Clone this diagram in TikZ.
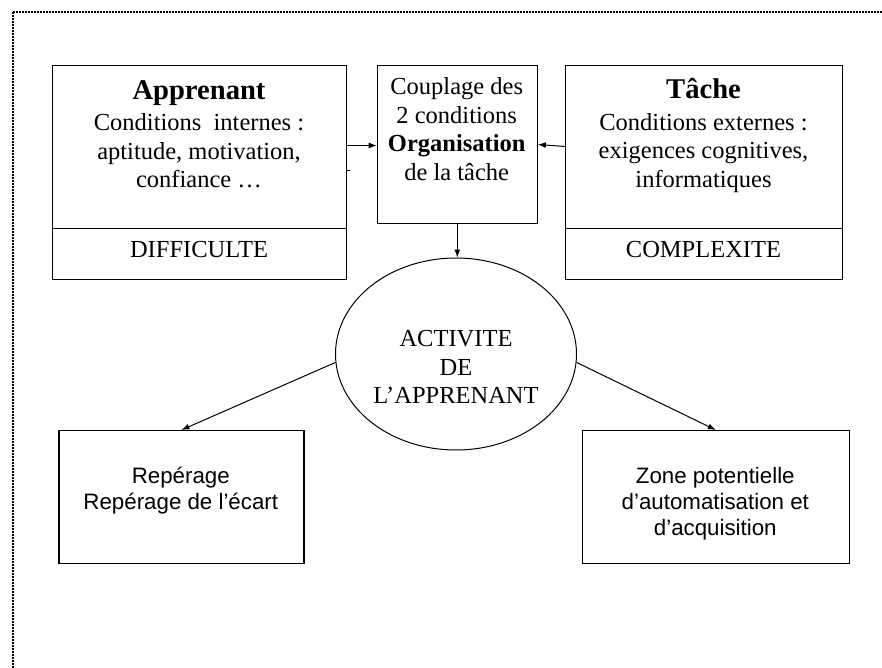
\documentclass[tikz,border=0pt]{standalone}
\usepackage{fontspec}
\setmainfont{Liberation Serif}
\newfontfamily\arialfont{Liberation Sans}
\usetikzlibrary{shapes.geometric,arrows.meta}
\begin{document}
\begin{tikzpicture}[x=1pt,y=-1pt,
  box/.style={draw=black,line width=1.2pt,rectangle,inner sep=0pt,anchor=north west},
  ln/.style={anchor=base,inner sep=0pt,font=\fontsize{24.5}{28.7}\selectfont},
  lnb/.style={anchor=base,inner sep=0pt,font=\fontsize{24.5}{28.7}\selectfont\bfseries},
  ttl/.style={anchor=base,inner sep=0pt,font=\fontsize{28.6}{33}\selectfont\bfseries},
  lna/.style={anchor=base,inner sep=0pt,font=\arialfont\fontsize{22.3}{25.7}\selectfont},
  conn/.style={draw=black,line width=1pt,-{Latex[length=8pt,width=6pt]}}]
\useasboundingbox (0,0) rectangle (882,668);
% dotted frame
\draw[line width=2pt,dash pattern=on 2pt off 1pt] (12.7,668) -- (12.7,11.7) -- (882,11.7);

% top boxes
\node[box,minimum width=294pt,minimum height=163pt] (app) at (52,65) {};
\node[box,minimum width=294pt,minimum height=51pt] (diff) at (52,228) {};
\node[box,minimum width=160pt,minimum height=158pt] (coup) at (376.7,65) {};
\node[box,minimum width=277pt,minimum height=163pt] (tache) at (565,65) {};
\node[box,minimum width=277pt,minimum height=51pt] (comp) at (565,228) {};

% Apprenant texts
\node[ttl] (t1) at (199,100) {Apprenant};
\node[ln] (t2) at (199,131) {Conditions~~internes :};
\node[ln] (t3) at (199,159.5) {aptitude, motivation,};
\node[ln] (t4) at (199,188) {confiance …};
\node[ln] (t5) at (199,257.3) {DIFFICULTE};

% Couplage texts
\node[ln] (c1) at (456.7,94.5) {Couplage des};
\node[ln] (c2) at (456.7,123.3) {2 conditions};
\node[lnb] (c3) at (456.7,152) {Organisation};
\node[ln] (c4) at (456.7,181) {de la tâche};

% Tache texts
\node[ttl] (k1) at (703.5,99) {Tâche};
\node[ln] (k2) at (703.5,130.5) {Conditions externes :};
\node[ln] (k3) at (703.5,159) {exigences cognitives,};
\node[ln] (k4) at (703.5,187.5) {informatiques};
\node[ln] (k5) at (703.5,257.3) {COMPLEXITE};

% ellipse
\node[draw=black,line width=1pt,ellipse,minimum width=241pt,minimum height=192pt,inner sep=0pt] (act) at (456,354) {};
\node[ln] (e1) at (456,346) {ACTIVITE};
\node[ln] (e2) at (456,375) {DE};
\node[ln] (e3) at (456,403.3) {L’APPRENANT};

% bottom boxes
\node[box,minimum width=245pt,minimum height=133pt] (rep) at (58.3,430) {};
\node[box,minimum width=267pt,minimum height=133pt] (zone) at (581.7,430) {};
\node[lna] (r1) at (180.8,483.3) {Repérage};
\node[lna] (r2) at (180.8,509) {Repérage de l’écart};
\node[lna] (z1) at (715.3,483.3) {Zone potentielle};
\node[lna] (z2) at (715.3,509.3) {d’automatisation et};
\node[lna] (z3) at (715.3,535) {d’acquisition};

% connectors
\coordinate (a1) at (app.east |- 0,145.5);
\coordinate (a2) at (coup.west |- 0,145.5);
\draw[conn] (a1) -- (a2);
\coordinate (b1) at (tache.west |- 0,146.5);
\coordinate (b2) at (coup.east |- 0,144.5);
\draw[conn] (b1) -- (b2);
\draw[conn] (coup.south) -- (coup.south |- act.north);
\draw[conn] (act.184) -- (rep.north);
\draw[conn] (act.-4) -- (zone.north);
% small stray tick
\coordinate (s1) at (346.5,170.5);
\coordinate (s2) at (349.5,170.5);
\draw[line width=1pt] (s1) -- (s2);
\end{tikzpicture}
\end{document}
